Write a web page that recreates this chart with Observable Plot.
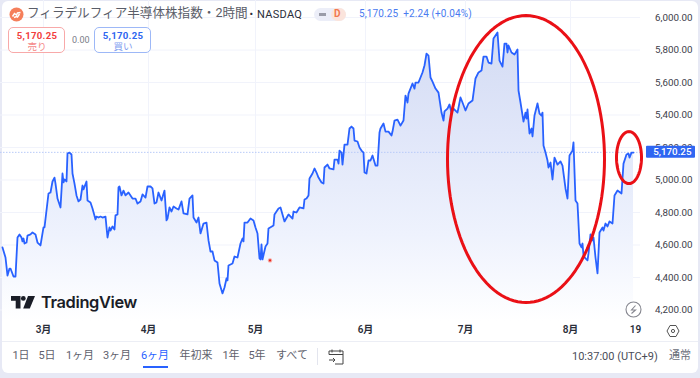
<!DOCTYPE html>
<html lang="ja">
<head>
<meta charset="utf-8">
<script src="https://cdn.jsdelivr.net/npm/d3@7"></script>
<script src="https://cdn.jsdelivr.net/npm/@observablehq/plot@0.6"></script>
<style>
html,body{margin:0;padding:0;background:#e7e9f5;}
#wrap{position:relative;width:700px;height:378px;overflow:hidden;font-family:Roboto,"Noto Sans CJK JP",sans-serif;}
#card{position:absolute;left:2px;top:1px;width:696px;height:372px;background:#fff;border-radius:6px;}
#chart{position:absolute;left:0;top:0;}
.t{position:absolute;white-space:nowrap;line-height:1;}
.box{position:absolute;top:27px;height:26px;width:57px;border-radius:5px;box-sizing:border-box;background:#fff;}
.c{transform:translateX(-50%);}
</style>
</head>
<body>
<div id="wrap">
<div id="card"></div>
<div id="chart"></div>

<svg style="position:absolute;left:9px;top:7px" width="15" height="15" viewBox="0 0 15 15"><circle cx="7.5" cy="7.5" r="7" fill="#f57f5b"/><path d="M3.5 9.5l2-3 2 1.5 1-2 3-.5M5 10.5l2.5-1 1 .5 2-3" stroke="#fff" stroke-width="1.5" fill="none"/></svg>
<div class="t" style="left:27px;top:7px;font-size:12.6px;color:#5a5d68">フィラデルフィア半導体株指数・2時間</div>
<div class="t" style="left:246px;top:10px;font-size:10.6px;color:#2a2e39">・</div>
<div class="t" style="left:257px;top:9px;font-size:11px;color:#2a2e39;letter-spacing:.3px">NASDAQ</div>
<div style="position:absolute;left:314px;top:8px;width:32px;height:13px;border-radius:7px;background:#eceef8"></div>
<div style="position:absolute;left:331px;top:8px;width:15px;height:13px;border-radius:7px;background:#fbe4dc"></div>
<div style="position:absolute;left:319px;top:13px;width:7px;height:3px;background:#9a9ca8"></div>
<div class="t" style="left:334px;top:9px;font-size:10px;font-weight:700;color:#f2784f">D</div>
<div class="t" style="left:359px;top:9px;font-size:10px;color:#4a7bf0;letter-spacing:.1px">5,170.25&nbsp; +2.24 (+0.04%)</div>

<div class="box" style="left:8px;border:1px solid #f8a9a9"></div>
<div class="t c" style="left:37px;top:31px;font-size:9.6px;font-weight:700;color:#f23e3e;letter-spacing:.3px">5,170.25</div>
<div class="t c" style="left:37px;top:42px;font-size:9.6px;color:#f58a8a">売り</div>
<div class="t" style="left:72px;top:36px;font-size:9px;color:#7a7d88">0.00</div>
<div class="box" style="left:94px;border:1px solid #9db8f7"></div>
<div class="t c" style="left:123px;top:31px;font-size:9.6px;font-weight:700;color:#2e66f0;letter-spacing:.3px">5,170.25</div>
<div class="t c" style="left:123px;top:42px;font-size:9.6px;color:#7f9ef0">買い</div>

<svg style="position:absolute;left:11px;top:296px" width="24" height="13" viewBox="0 0 24 13"><path d="M0 0h9.5v12.5h-4.8V4.8H0z" fill="#1a1d27"/><circle cx="12.3" cy="2.4" r="2.4" fill="#1a1d27"/><path d="M17 0h7l-5.2 12.5h-6.6z" fill="#1a1d27"/></svg>
<div class="t" style="left:41px;top:294px;font-size:16.4px;font-weight:600;font-family:Inter,Roboto,sans-serif;color:#1a1d27;letter-spacing:-.35px">TradingView</div>

<svg style="position:absolute;left:625px;top:301px" width="17" height="17" viewBox="0 0 17 17"><circle cx="8.5" cy="8.5" r="7.5" fill="#fff" stroke="#85868f" stroke-width="1.1"/><path d="M10.5 4.5L6.5 9h4L6.5 12.5" fill="none" stroke="#85868f" stroke-width="1.1"/></svg>
<svg style="position:absolute;left:666px;top:324px" width="14" height="14" viewBox="0 0 14 14"><path d="M4 1.5h6L13 7l-3 5.5H4L1 7z" fill="none" stroke="#555" stroke-width="1"/><circle cx="7" cy="7" r="1.6" fill="none" stroke="#555"/></svg>

<div style="position:absolute;left:2px;top:341px;width:696px;height:1px;background:#eceef5"></div>
<div style="position:absolute;left:317px;top:348px;width:1px;height:17px;background:#e3e5ee"></div>
<div style="position:absolute;left:143px;top:366px;width:25px;height:2px;background:#2962ff"></div>
<svg style="position:absolute;left:328px;top:349px" width="16" height="16" viewBox="0 0 16 16"><path d="M1 5.5V2h14v13H7M1 5.5h14M4 .5v3M12 .5v3M1 11h6M5 9l2 2-2 2" fill="none" stroke="#444" stroke-width="1"/></svg>
<div class="t" style="left:572px;top:351px;font-size:11px;color:#4a4d58">10:37:00 (UTC+9)</div>
<div class="t" style="left:669px;top:350px;font-size:11px;color:#6a6d78">通常</div>
</div>

<script>
const barPos = [2,5,7,9,10,13,15,17,19,21,22,23,24,26,27,30,32,35,37,40,43,44,48,50,52,54,55,57,60,62,63,64,66,67,69,71,72,74,76,78,80,82,83,86,87,90,92,95,96,98,100,102,105,107,109,110,112,114,115,117,118,119,121,123,125,
128,132,135,137,140,142,145,147,150,152,154,156,158,161,164,166,167,169,171,173,176,178,181,183,187,189,192,193,196,198,200,203,206,208,210,212,214,217,219,222,224,226,227,228,232,234,237,240,242,243,244,247,250,
253,255,257,259,260,261,262,265,267,268,273,274,278,280,284,288,292,293,296,299,303,304,306,308,309,312,314,316,318,321,323,324,327,329,333,334,337,338,339,341,342,344,347,349,351,353,354,357,359,361,363,364,366,368,370,372,375,377,379,
380,383,385,388,391,392,394,397,400,403,405,407,408,412,414,415,418,422,424,426,428,430,432,435,438,441,443,444,447,449,451,453,457,460,462,465,468,472,475,478,481,483,486,488,491,493,497,499,502,504,506,507,508,511,514,517,518,520,523,525,526,527,529,531,532,534,537,539,541,542,543,545,547,548,550,552,554,557,560,562,565,567,569,572,573,575,577,579,581,582,583,585,587,588,590,592,593,595,597,599,602,603,605,607,609,612,614,617,621,623,626,628,629,631,633];
const price = [4585,4523,4412,4455,4455,4406,4406,4646,4665,4646,4622,4640,4609,4615,4658,4665,4677,4665,4615,4597,4708,4708,4917,4923,4991,5015,4978,4886,4831,5040,4985,5003,4991,5163,5169,5157,5040,4978,4905,4868,4880,4966,4942,4991,4874,4862,4825,4757,4775,4769,4775,4769,4775,4646,4708,4689,4714,4695,4782,4788,4954,4960,4905,4935,4905,
4923,4886,4886,4855,4868,4911,4892,4960,4960,4948,4855,4862,4923,4874,4935,4751,4763,4831,4806,4837,4825,4818,4868,4794,4788,4886,4905,4769,4738,4769,4671,4732,4738,4628,4560,4560,4505,4492,4363,4302,4338,4394,4382,4474,4486,4529,4523,4609,4640,4622,4738,4738,4763,
4751,4708,4671,4517,4511,4603,4511,4591,4609,4702,4720,4788,4825,4831,4745,4788,4763,4806,4800,4831,4825,4880,4886,4905,5009,5040,5071,5046,5015,4985,4978,5077,5095,5071,5065,5126,5126,5101,5181,5169,5095,5218,5218,5317,5329,5317,5243,5237,5200,5181,5169,5046,5040,5120,5120,5151,5089,5089,5292,
5317,5348,5298,5298,5274,5298,5366,5372,5335,5366,5520,5477,5532,5594,5563,5600,5600,5662,5705,5778,5766,5631,5606,5563,5538,5415,5366,5422,5440,5465,5415,5440,5415,5508,5477,5428,5471,5489,5625,5662,5674,5760,5760,5723,5717,5871,5908,5735,5698,5840,5840,5785,5828,5785,5772,5803,5551,5477,5360,5415,5378,5434,5286,5317,5268,5397,5471,5409,5397,5415,5212,5169,5120,5077,5108,5003,5138,5095,5114,5089,4948,4886,5151,5181,5231,4874,4855,4609,4585,4609,4535,4517,4505,4548,4665,4628,4646,4523,4425,4677,4708,4689,4732,4714,4745,4732,4905,4935,4917,5101,5157,5163,5138,5169,5169];

const yTicks = [4200,4400,4600,4800,5000,5200,5400,5600,5800,6000];
const monthBars = [43,148,255,365,465,570,635];
const monthLabels = ["3月","4月","5月","6月","7月","8月","19"];
const rangeLabels = ["1日","5日","1ヶ月","3ヶ月","6ヶ月","年初来","1年","5年","すべて"];
const rangeCenters = [21,47,80,117,155,196,231,257,292];
const lastPrice = 5170.25;
const ellipses = [
  {cx:525.5, cy:5129, rx:78.5, ry:883},
  {cx:628.5, cy:5138, rx:12.5, ry:160}
];
const strayDot = [{x:269.5, y:4505}];

const rows = barPos.map((x,i)=>({x, p:price[i]}));
const yBase = 4129;
const ellipsePts = ellipses.flatMap((e,k)=>d3.range(0,121).map(i=>{
  const a=i/120*2*Math.PI;
  return {k, x:e.cx+e.rx*Math.cos(a), y:e.cy+e.ry*Math.sin(a)};
}));
const fmt = d3.format(",.2f");
const gridColor = "#f1f3fb";

const plot = Plot.plot({
  width:700, height:378,
  marginTop:0, marginBottom:57, marginLeft:0, marginRight:60,
  style:{background:"transparent", fontFamily:'Roboto,"Noto Sans CJK JP",sans-serif'},
  x:{domain:[0,640], axis:null},
  y:{domain:[yBase,6105], axis:null},
  marks:[
    Plot.ruleX(monthBars.slice(0,6),{stroke:gridColor}),
    Plot.ruleY(yTicks,{stroke:gridColor}),
    Plot.areaY(rows,{x:"x", y1:yBase, y2:"p", fill:"url(#areaGrad)"}),
    Plot.ruleY([lastPrice],{stroke:"#b9caf8", strokeDasharray:"1.5,1.5"}),
    Plot.line(rows,{x:"x", y:"p", stroke:"#2962ff", strokeWidth:1.8, strokeLinejoin:"round"}),
    Plot.dot(strayDot,{x:"x", y:"y", r:2.2, fill:"#f9a7a0"}),
    Plot.dot(strayDot,{x:"x", y:"y", r:1.1, fill:"#e8261c"}),
    Plot.line(ellipsePts,{x:"x", y:"y", z:"k", stroke:"#ea1016", strokeWidth:3}),
    Plot.axisY(yTicks,{anchor:"right", tickSize:0, tickFormat:fmt, textAnchor:"end", dx:43, fontSize:9.8, fill:"#3d404a", label:null}),
    Plot.axisX(monthBars,{anchor:"bottom", tickSize:0, tickPadding:4, tickFormat:(d,i)=>monthLabels[i], fontSize:10, fontWeight:600, fill:"#2a2e39", label:null}),
    Plot.rect([lastPrice],{x1:646, x2:695, y1:d=>d-37, y2:d=>d+37, fill:"#2f66f2", rx:1}),
    Plot.text([lastPrice],{x:691, y:d=>d, text:fmt, textAnchor:"end", fill:"#fff", fontSize:9.8, fontWeight:500})
  ]
});

const ns="http://www.w3.org/2000/svg";
const defs=document.createElementNS(ns,"defs");
const grad=document.createElementNS(ns,"linearGradient");
grad.setAttribute("id","areaGrad");
grad.setAttribute("gradientUnits","userSpaceOnUse");
grad.setAttribute("x1",0);grad.setAttribute("x2",0);grad.setAttribute("y1",30);grad.setAttribute("y2",321);
[[0,"#d3dbf3"],[0.35,"#e0e6f9"],[0.7,"#eef2fd"],[1,"#ffffff"]].forEach(([o,c])=>{
  const s=document.createElementNS(ns,"stop");s.setAttribute("offset",o);s.setAttribute("stop-color",c);grad.appendChild(s);
});
defs.appendChild(grad);plot.prepend(defs);
document.getElementById("chart").appendChild(plot);

const wrap=document.getElementById("wrap");
rangeLabels.forEach((l,i)=>{
  const d=document.createElement("div");
  d.className="t c";
  d.textContent=l;
  d.style.left=rangeCenters[i]+"px";
  d.style.top="350px";
  d.style.fontSize="11px";
  d.style.color=l==="6ヶ月"?"#2962ff":"#5f626d";
  wrap.appendChild(d);
});
</script>
</body>
</html>
